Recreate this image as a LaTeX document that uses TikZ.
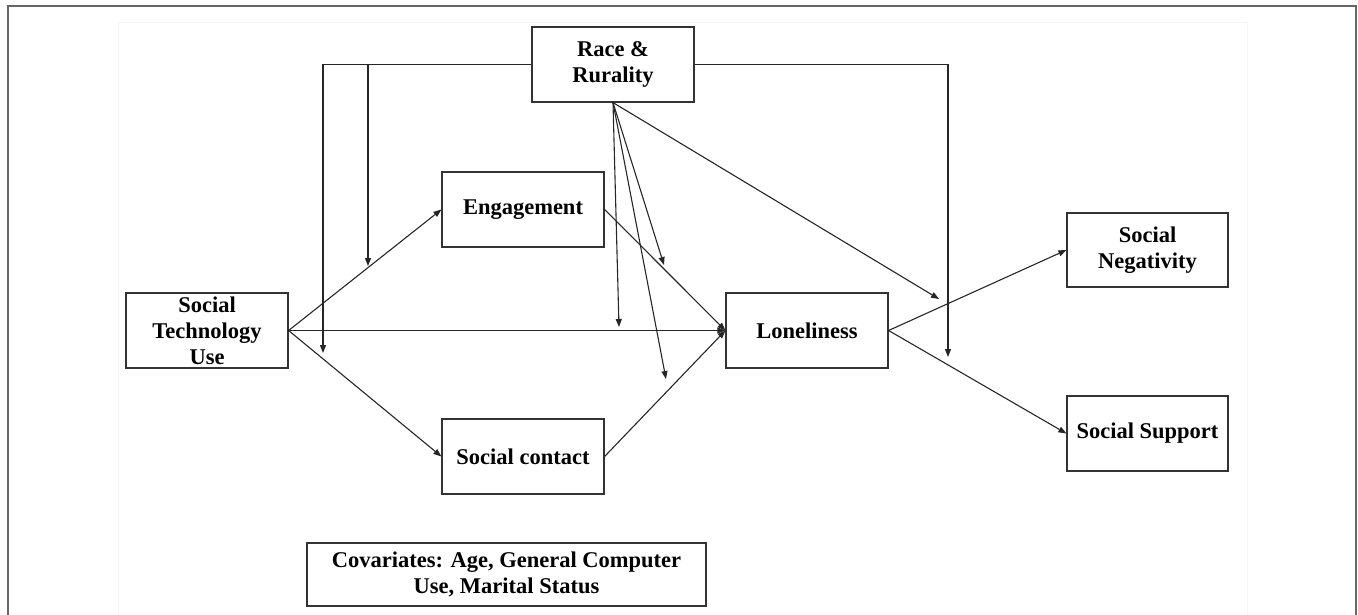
\documentclass[tikz,border=0pt]{standalone}
\usepackage{fontspec}
\setmainfont{Liberation Serif}
\usetikzlibrary{arrows.meta}
\begin{document}
\begin{tikzpicture}[x=1pt,y=-1pt,
  box/.style={draw=black!80, line width=1.2pt, inner sep=0pt, align=center,
    minimum width=162pt, minimum height=75pt,
    font=\bfseries\fontsize{22.5}{26}\selectfont},
  arr/.style={draw=black!85, line width=1.1pt, -{Triangle[length=8pt,width=6pt]}},
  frame/.style={draw=black!60, line width=1.6pt},
  faint/.style={draw=black!4, line width=1pt}]
\useasboundingbox (0,0) rectangle (1358,615);
\clip (0,0) rectangle (1358,615);
\draw[frame] (8,640) -- (8,6) -- (1356,6) -- (1356,640);
\draw[faint] (118,640) -- (118,23) -- (1247,23) -- (1247,640);
% nodes
\node[box] (race) at (613,64.5) {Race \&\\Rurality};
\node[box] (stu) at (207,330.5) {Social\\Technology\\Use};
\node[box] (eng) at (523,209.5) {Engagement};
\node[box] (sc) at (523,456.5) {Social contact};
\node[box] (lon) at (807,330.5) {Loneliness};
\node[box, minimum width=161pt, minimum height=74pt] (neg) at (1147.5,250) {Social\\Negativity};
\node[box, minimum width=161pt] (sup) at (1147.5,433.5) {Social Support};
\node[box, minimum width=399pt, minimum height=63pt] (cov) at (506.5,574.5) {Covariates: Age, General Computer\\Use, Marital Status};
% moderation targets
\coordinate (m1) at (323,353);
\coordinate (m2) at (368,266);
\coordinate (m3) at (948,357);
\coordinate (t1) at (619,327);
\coordinate (t2) at (664,265);
\coordinate (t3) at (666,379);
\coordinate (t4) at (939,299);
% main paths
\draw[arr] (stu.east) -- (eng.west);
\draw[arr] (stu.east) -- (sc.west);
\draw[arr] (stu.east) -- (lon.west);
\draw[arr] (eng.east) -- (lon.west);
\draw[arr] (sc.east) -- (lon.west);
\draw[arr] (lon.east) -- (neg.west);
\draw[arr] (lon.east) -- (sup.west);
% moderator paths
\draw[arr] (race.west) -| (m1);
\draw[arr] (m2 |- race.west) -- (m2);
\draw[arr] (race.east) -| (m3);
\draw[arr] (race.south) -- (t1);
\draw[arr] (race.south) -- (t2);
\draw[arr] (race.south) -- (t3);
\draw[arr] (race.south) -- (t4);
\end{tikzpicture}
\end{document}
